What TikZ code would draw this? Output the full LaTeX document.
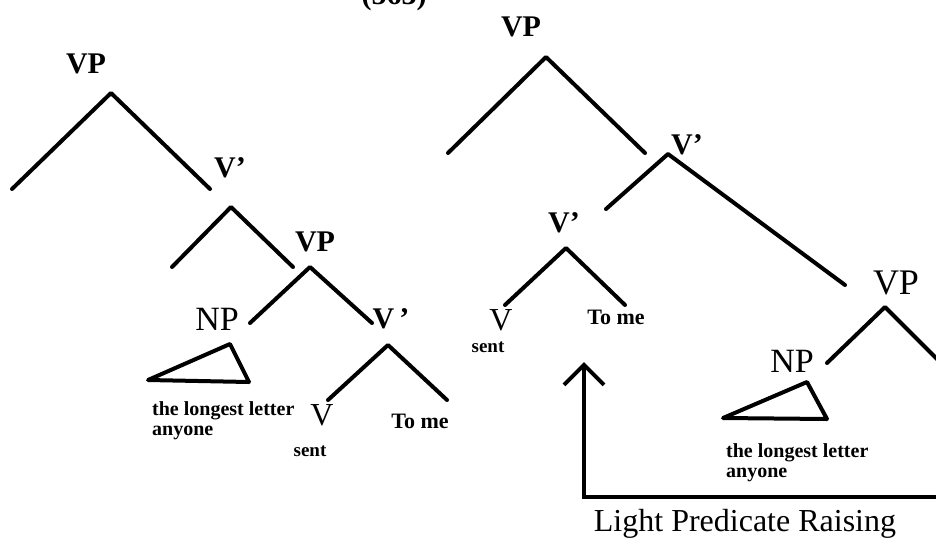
\documentclass[tikz,border=0pt]{standalone}
\usepackage{fontspec}
\setmainfont{Liberation Serif}
\usetikzlibrary{arrows.meta}
\tikzset{
  branch/.style={line width=4pt, line cap=round, line join=round},
  bigb/.style={inner sep=0pt, font=\bfseries\fontsize{30}{30}\selectfont},
  bigr/.style={inner sep=0pt, font=\fontsize{34}{34}\selectfont},
  smallb/.style={inner sep=0pt, font=\bfseries\fontsize{20}{20.5}\selectfont},
  tomeb/.style={inner sep=0pt, font=\bfseries\fontsize{22}{22}\selectfont},
  sentb/.style={inner sep=0pt, font=\bfseries\fontsize{19}{19}\selectfont},
  caption/.style={inner sep=0pt, font=\fontsize{32}{32}\selectfont},
  move/.style={line width=4pt, line cap=round, line join=miter, -{Straight Barb[length=20pt,width=40pt,line width=4pt]}}
}
\begin{document}
\begin{tikzpicture}[x=1pt,y=-1pt]
\useasboundingbox (0,0) rectangle (936,539);
% number (cut off at top, as in the source)
\node[bigb, anchor=base] (num) at (394,4) {(563)};

% ===== left tree =====
\node[bigb] (lVP) at (86,64) {VP};
\coordinate (lA1) at (111,93);
\coordinate (lA1l) at (12,189);
\coordinate (lA1r) at (210,189);
\draw[branch] (lA1l) -- (lA1) -- (lA1r);

\node[bigb] (lV1) at (230,168) {V’};
\coordinate (lA2) at (231,207);
\coordinate (lA2l) at (172,267);
\coordinate (lA2r) at (293,267);
\draw[branch] (lA2l) -- (lA2) -- (lA2r);

\node[bigb] (lVP2) at (315,242) {VP};
\coordinate (lA3) at (310,267);
\coordinate (lA3l) at (250,323);
\coordinate (lA3r) at (372,323);
\draw[branch] (lA3l) -- (lA3) -- (lA3r);

\node[bigr] (lNP) at (217,319) {NP};
\coordinate (lT1) at (148,380);
\coordinate (lT2) at (230,344);
\coordinate (lT3) at (249,382);
\draw[branch] (lT1) -- (lT2) -- (lT3) -- cycle;
\node[smallb, anchor=north west, align=left] (lnp) at (152,401) {the longest letter\\anyone};

\node[bigb] (lV2) at (391,319) {V\,’};
\coordinate (lA4) at (388,345);
\coordinate (lA4l) at (328,400);
\coordinate (lA4r) at (447,400);
\draw[branch] (lA4l) -- (lA4) -- (lA4r);
\node[bigr, font=\fontsize{32}{32}\selectfont] (lV) at (322,415) {V};
\node[sentb] (lsent) at (310,451) {sent};
\node[tomeb] (ltome) at (420,421) {To me};

% ===== right tree =====
\node[bigb] (rVP) at (521,27) {VP};
\coordinate (rA1) at (546,57);
\coordinate (rA1l) at (448,153);
\coordinate (rA1r) at (645,153);
\draw[branch] (rA1l) -- (rA1) -- (rA1r);

\node[bigb] (rV1) at (687,145) {V’};
\coordinate (rA2) at (668,154);
\coordinate (rA2l) at (606,209);
\coordinate (rA2r) at (845,285);
\draw[branch] (rA2l) -- (rA2) -- (rA2r);

\node[bigb] (rV2) at (564,223) {V’};
\coordinate (rA3) at (566,248);
\coordinate (rA3l) at (505,305);
\coordinate (rA3r) at (625,305);
\draw[branch] (rA3l) -- (rA3) -- (rA3r);
\node[bigr, font=\fontsize{32}{32}\selectfont] (rV) at (501,320) {V};
\node[sentb] (rsent) at (488,347) {sent};
\node[tomeb] (rtome) at (616,317) {To me};

\node[bigr, font=\fontsize{36}{36}\selectfont] (rVP2) at (896,283) {VP};
\coordinate (rA4) at (885,307);
\coordinate (rA4l) at (827,363);
\coordinate (rA4r) at (940,362);
\draw[branch] (rA4l) -- (rA4) -- (rA4r);

\node[bigr] (rNP) at (792,361) {NP};
\coordinate (rT1) at (723,418);
\coordinate (rT2) at (807,382);
\coordinate (rT3) at (827,419);
\draw[branch] (rT1) -- (rT2) -- (rT3) -- cycle;
\node[smallb, anchor=north west, align=left] (rnp) at (726,443) {the longest letter\\anyone};

% ===== movement arrow =====
\coordinate (mStart) at (940,497);
\coordinate (mCorner) at (584,497);
\coordinate (mTip) at (584,362);
\draw[move] (mStart) -- (mCorner) -- (mTip);
\node[caption, anchor=north] (cap) at (745,509) {Light Predicate Raising};
\end{tikzpicture}
\end{document}
